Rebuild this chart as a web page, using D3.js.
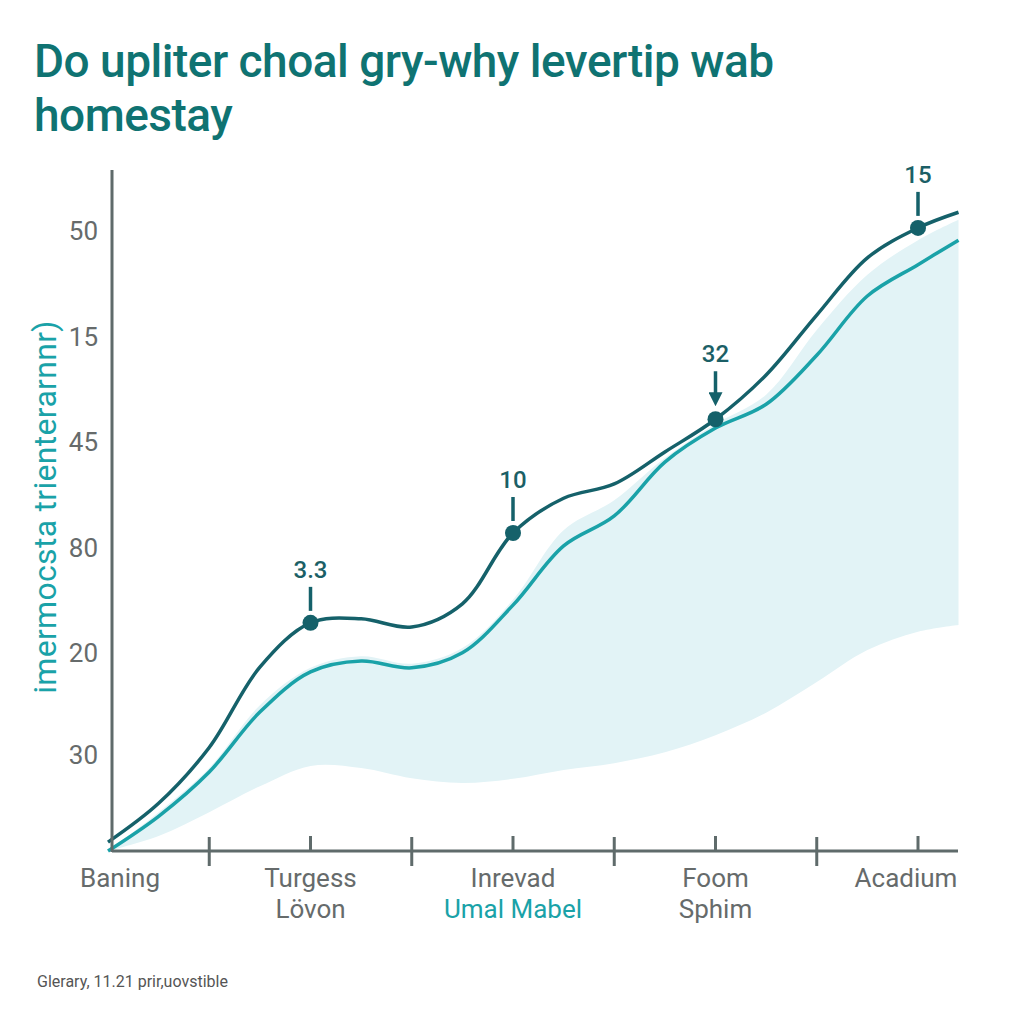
<!DOCTYPE html>
<html>
<head>
<meta charset="utf-8">
<script src="https://cdn.jsdelivr.net/npm/d3@7"></script>
<style>
  body { margin: 0; background: #fff; }
  svg { display: block; font-family: Roboto, "Noto Sans", sans-serif; }
</style>
</head>
<body>
<script>
// ---- data ----
const categories = ["Baning", "Turgess", "Inrevad", "Foom", "Acadium"];
const subLabels = ["", "Lövon", "Umal Mabel", "Sphim", ""];

// sample positions along the x axis (in category units)
const steps = [0, 0.25, 0.5, 0.75, 1, 1.25, 1.5, 1.75, 2, 2.25, 2.5, 2.75, 3, 3.25, 3.5, 3.75, 4, 4.2];

const darkLine = [1.3, 7.0, 15.2, 27.0, 33.5, 34.1, 32.9, 36.3, 46.7, 51.8, 53.9, 58.6, 63.4, 69.9, 78.7, 87.1, 91.5, 93.8];
const tealLine = [0, 5.1, 11.6, 20.4, 26.3, 27.9, 26.9, 29.1, 36.1, 44.8, 49.2, 57.1, 62.1, 65.6, 72.8, 81.5, 86.1, 89.7];
const bandHigh = [0, 5.7, 12.2, 21.4, 26.9, 28.6, 27.5, 29.8, 36.9, 47.1, 51.5, 57.7, 62.7, 67.0, 76.5, 84.6, 89.7, 92.7];
const bandLow  = [0, 2.2, 5.7, 9.5, 12.5, 12.2, 10.7, 10.0, 10.6, 11.9, 12.9, 14.5, 17.0, 20.3, 24.8, 29.5, 32.2, 33.2];

const yTickValues = [14, 29, 44.5, 60, 75.5, 91];
const yTickLabels = ["30", "20", "80", "45", "15", "50"];

// callouts on the dark line
const calloutAt = [1, 2, 3, 4];
const calloutText = ["3.3", "10", "32", "15"];
const calloutKind = ["tick", "tick", "arrow", "tick"];

const titleLines = ["Do upliter choal gry-why levertip wab", "homestay"];
const yTitle = "imermocsta trienterarnnr)";
const footer = "Glerary, 11.21 prir,uovstible";

// ---- drawing ----
const W = 1024, H = 1024;
const svg = d3.select("body").append("svg").attr("width", W).attr("height", H);

const x = d3.scaleLinear().domain([0, 4]).range([108, 918]);
const y = d3.scaleLinear().domain([0, 100]).range([851, 170]);

const axisCol = "#5f6b6b";
const darkCol = "#15616a";
const tealCol = "#1aa2a8";

// title
svg.append("g").selectAll("text").data(titleLines).enter().append("text")
    .attr("x", 34)
    .attr("y", (d, i) => 77 + i * 54)
    .attr("fill", "#0f7372")
    .attr("font-size", 46)
    .attr("font-weight", 500)
    .attr("letter-spacing", -0.5)
    .text(d => d);

// shaded band
const band = d3.area()
    .x((d, i) => x(steps[i]))
    .y0((d, i) => y(bandLow[i]))
    .y1((d, i) => y(bandHigh[i]))
    .curve(d3.curveCatmullRom);
svg.append("path").datum(steps).attr("d", band).attr("fill", "#e2f3f6");

// lines
const lineGen = arr => d3.line()
    .x((d, i) => x(steps[i]))
    .y((d, i) => y(arr[i]))
    .curve(d3.curveCatmullRom)(steps);

svg.append("path").attr("d", lineGen(tealLine))
    .attr("fill", "none").attr("stroke", tealCol).attr("stroke-width", 3.5);
svg.append("path").attr("d", lineGen(darkLine))
    .attr("fill", "none").attr("stroke", darkCol).attr("stroke-width", 3.5);

// axes
const axisY = y(0);
svg.append("line").attr("x1", 112).attr("x2", 958)
    .attr("y1", axisY).attr("y2", axisY)
    .attr("stroke", axisCol).attr("stroke-width", 3);

// long ticks between categories, short ticks on categories
const longTicks = [0.5, 1.5, 2.5, 3.5];
const shortTicks = [1, 2, 3, 4];
svg.append("g").selectAll("line").data(longTicks).join("line")
    .attr("x1", d => x(d)).attr("x2", d => x(d))
    .attr("y1", axisY - 14).attr("y2", axisY + 15)
    .attr("stroke", axisCol).attr("stroke-width", 3);
svg.append("g").selectAll("line").data(shortTicks).join("line")
    .attr("x1", d => x(d)).attr("x2", d => x(d))
    .attr("y1", axisY - 15).attr("y2", axisY)
    .attr("stroke", axisCol).attr("stroke-width", 3);

const xl = svg.append("g").attr("font-size", 26).attr("text-anchor", "middle");
categories.forEach((c, i) => {
  const cx = Math.min(Math.max(x(i), 120), 906);
  xl.append("text").attr("x", cx).attr("y", 887).attr("fill", "#666b6b").text(c);
  if (subLabels[i]) {
    xl.append("text").attr("x", cx).attr("y", 918)
      .attr("fill", i === 2 ? tealCol : "#666b6b").text(subLabels[i]);
  }
});

svg.append("line").attr("x1", 112).attr("x2", 112).attr("y1", 170).attr("y2", 852)
    .attr("stroke", axisCol).attr("stroke-width", 3);

const yAxis = svg.append("g").attr("transform", "translate(112,0)")
    .call(d3.axisLeft(y).tickValues(yTickValues)
      .tickFormat((d, i) => yTickLabels[i]).tickSize(0).tickPadding(14));
yAxis.select(".domain").remove();
yAxis.selectAll("text").attr("font-size", 26).attr("fill", "#666b6b")
    .attr("font-family", "Roboto, sans-serif");

svg.append("text")
    .attr("transform", "translate(56,507) rotate(-90)")
    .attr("text-anchor", "middle")
    .attr("font-size", 32)
    .attr("letter-spacing", 0.3)
    .attr("fill", tealCol)
    .text(yTitle);

// callouts
svg.append("defs").append("marker")
    .attr("id", "arr").attr("viewBox", "0 0 10 10")
    .attr("refX", 5).attr("refY", 5)
    .attr("markerWidth", 4).attr("markerHeight", 4)
    .attr("orient", "auto")
    .append("path").attr("d", "M0,0L10,5L0,10Z").attr("fill", darkCol);

calloutAt.forEach((c, k) => {
  const i = steps.indexOf(c);
  const px = x(c), py = y(darkLine[i]);
  const arrow = calloutKind[k] === "arrow";
  const top = arrow ? py - 48 : py - 36;
  svg.append("line").attr("x1", px).attr("x2", px)
      .attr("y1", top).attr("y2", arrow ? py - 20 : py - 12)
      .attr("stroke", darkCol).attr("stroke-width", 3.5)
      .attr("marker-end", arrow ? "url(#arr)" : null);
  svg.append("circle").attr("cx", px).attr("cy", py).attr("r", 8).attr("fill", darkCol);
  svg.append("text").attr("x", px).attr("y", top - 9)
      .attr("text-anchor", "middle").attr("font-size", 24).attr("font-weight", 500)
      .attr("fill", "#1b5f66").text(calloutText[k]);
});

// footer
svg.append("text").attr("x", 37).attr("y", 987)
    .attr("font-size", 16).attr("fill", "#555")
    .text(footer);
</script>
</body>
</html>
